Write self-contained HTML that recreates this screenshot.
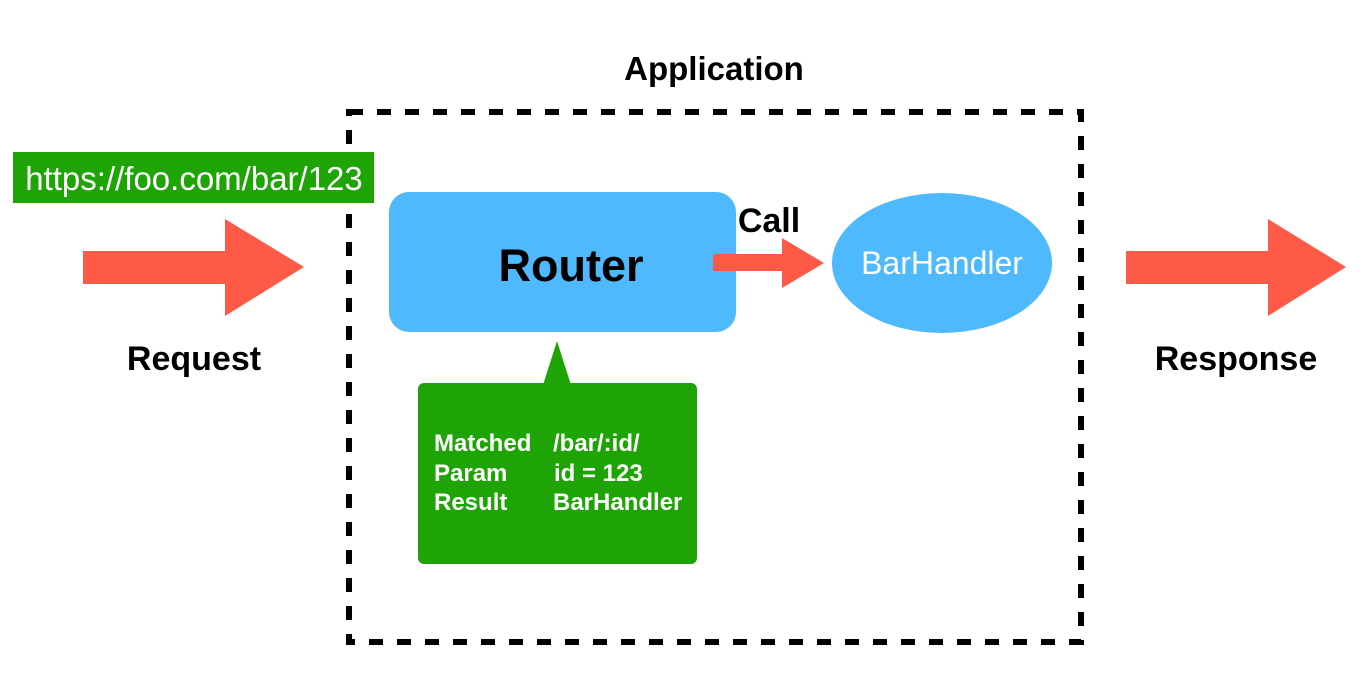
<!DOCTYPE html>
<html><head><meta charset="utf-8"><style>
html,body{margin:0;padding:0;background:#fff;}
svg text{font-family:"Liberation Sans",Arial,sans-serif;}
</style></head><body>
<svg width="1364" height="689" viewBox="0 0 1364 689" xmlns="http://www.w3.org/2000/svg">
<rect x="0" y="0" width="1364" height="689" fill="#fff"/>
<text x="714" y="80" font-size="33" font-weight="bold" text-anchor="middle" fill="#000">Application</text>
<rect x="349" y="112" width="732" height="530" fill="none" stroke="#000" stroke-width="6" stroke-dasharray="14 14"/>
<rect x="13" y="152" width="361" height="51" fill="#1ea505"/>
<text x="194" y="190" font-size="33" text-anchor="middle" fill="#fff">https://foo.com/bar/123</text>
<polygon points="83,251 225,251 225,219 304,267 225,316 225,284 83,284" fill="#ff5a47"/>
<text x="194" y="370" font-size="34" font-weight="bold" text-anchor="middle" fill="#000">Request</text>
<polygon points="1126,251 1268,251 1268,219 1346,267 1268,316 1268,284 1126,284" fill="#ff5a47"/>
<text x="1236" y="370" font-size="34" font-weight="bold" text-anchor="middle" fill="#000">Response</text>
<rect x="389" y="192" width="347" height="140" rx="20" fill="#4eb9fd"/>
<text x="571" y="281" font-size="45" font-weight="bold" text-anchor="middle" fill="#000">Router</text>
<polygon points="713,254 782,254 782,238 824,263 782,288 782,271 713,271" fill="#ff5a47"/>
<text x="769" y="232" font-size="34" font-weight="bold" text-anchor="middle" fill="#000">Call</text>
<ellipse cx="942" cy="263" rx="110" ry="70" fill="#4eb9fd"/>
<text x="942" y="274" font-size="32" text-anchor="middle" fill="#fff">BarHandler</text>
<rect x="418" y="383" width="279" height="181" rx="6" fill="#1ea505"/>
<polygon points="543,385 557,341 571,385" fill="#1ea505"/>
<g font-size="24" font-weight="bold" fill="#fff">
<text x="434" y="451">Matched</text><text x="553" y="451">/bar/:id/</text>
<text x="434" y="481">Param</text><text x="554" y="481">id = 123</text>
<text x="434" y="510">Result</text><text x="553" y="510">BarHandler</text>
</g>
</svg>
</body></html>
